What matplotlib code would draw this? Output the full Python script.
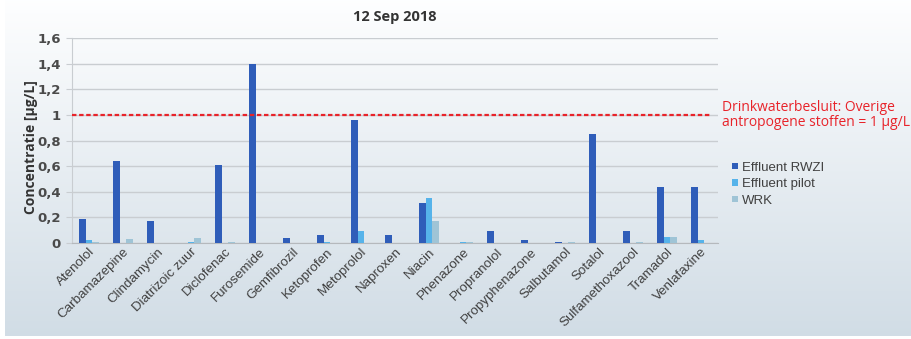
import numpy as np
import matplotlib
matplotlib.use("Agg")
import matplotlib.pyplot as plt
from matplotlib.ticker import FixedLocator, FuncFormatter

categories = ["Atenolol", "Carbamazepine", "Clindamycin", "Diatrizoic zuur", "Diclofenac",
              "Furosemide", "Gemfibrozil", "Ketoprofen", "Metoprolol", "Naproxen", "Niacin",
              "Phenazone", "Propranolol", "Propyphenazone", "Salbutamol", "Sotalol",
              "Sulfamethoxazool", "Tramadol", "Venlafaxine"]
effluent_rwzi = [0.19, 0.64, 0.17, 0.0, 0.61, 1.40, 0.04, 0.06, 0.96, 0.06, 0.31,
                 0.0, 0.09, 0.02, 0.01, 0.85, 0.09, 0.44, 0.44]
effluent_pilot = [0.02, 0.0, 0.0, 0.005, 0.0, 0.0, 0.0, 0.005, 0.09, 0.0, 0.35,
                  0.005, 0.0, 0.0, 0.0, 0.0, 0.0, 0.05, 0.02]
wrk = [0.005, 0.03, 0.0, 0.04, 0.005, 0.0, 0.0, 0.0, 0.0, 0.0, 0.17,
       0.005, 0.0, 0.0, 0.005, 0.0, 0.005, 0.05, 0.0]
series_names = ["Effluent RWZI", "Effluent pilot", "WRK"]
norm_value = 1.0
norm_text = "Drinkwaterbesluit: Overige\nantropogene stoffen = 1 µg/L"
title = "12 Sep 2018"
ylabel = "Concentratie [µg/L]"

colors = ["#2f5db9", "#56b3ea", "#9fc4d6"]

W, H = 912, 339
fig = plt.figure(figsize=(W / 100, H / 100), dpi=100)
fig.patch.set_facecolor("white")

# gradient panel behind the chart
bg = fig.add_axes([5 / W, 3 / H, 1 - 5 / W, 1 - 3 / H], zorder=0)
grad = np.linspace(0, 1, 256)[:, None]
top = np.array([0.995, 0.997, 1.0])
bottom = np.array([0.82, 0.865, 0.9])
img = top[None, None, :] * (1 - grad[:, :, None]) + bottom[None, None, :] * grad[:, :, None]
bg.imshow(np.repeat(img, 2, axis=1), aspect="auto", extent=[0, 1, 0, 1])
bg.axis("off")

ax = fig.add_axes([72 / W, 1 - 243 / H, (718 - 72) / W, (243 - 38) / H], zorder=1)
ax.patch.set_alpha(0)

x = np.arange(len(categories))
w = 0.19
for i, (vals, name) in enumerate(zip([effluent_rwzi, effluent_pilot, wrk], series_names)):
    ax.bar(x + (i - 1) * w, vals, width=w, color=colors[i], label=name, zorder=3)

ax.set_xlim(-0.5, len(categories) - 0.5)
ax.set_ylim(0, 1.6)
ax.yaxis.set_major_locator(FixedLocator(np.arange(0, 1.61, 0.2)))
ax.yaxis.set_major_formatter(FuncFormatter(lambda v, p: ("%g" % round(v, 1)).replace(".", ",")))
ax.grid(axis="y", color="#c9cdd1", linewidth=1.0, zorder=0)
for s in ["top", "right"]:
    ax.spines[s].set_visible(False)
ax.spines["left"].set_color("#c9cdd1")
ax.spines["bottom"].set_color("#b5b9bd")
ax.tick_params(axis="y", length=4, color="#c9cdd1", labelsize=9.5, labelcolor="#4a4a4a", pad=4)
ax.tick_params(axis="x", length=0, pad=2)
ax.set_xticks(x)
ax.set_xticklabels(categories, rotation=45, ha="right", rotation_mode="anchor",
                   fontsize=9.6, color="#404040", family="Liberation Sans")
for lab in ax.get_yticklabels():
    lab.set_fontweight("bold")

ax.axhline(norm_value, color="#e8232a", linestyle=(0, (2, 1.2)), linewidth=1.6, zorder=4,
           xmax=0.99)
ax.text(1.006, norm_value, norm_text, transform=ax.get_yaxis_transform(), color="#e8232a",
        fontsize=10, va="center", ha="left", linespacing=0.95, family="Open Sans")

ax.set_title(title, fontsize=10.5, fontweight="bold", color="#333333", pad=12, family="Open Sans")
ax.set_ylabel(ylabel, fontsize=10, fontweight="bold", color="#333333", family="Open Sans")
ax.yaxis.set_label_coords(-0.052, 0.47)

leg = ax.legend(loc="upper left", bbox_to_anchor=(1.004, 0.455), frameon=False,
                handlelength=0.4, handleheight=0.4, handletextpad=0.3, labelspacing=0.35,
                prop={"family": "Liberation Sans", "size": 9.5})
for t in leg.get_texts():
    t.set_color("#404040")

fig.savefig("out.png", dpi=100)
